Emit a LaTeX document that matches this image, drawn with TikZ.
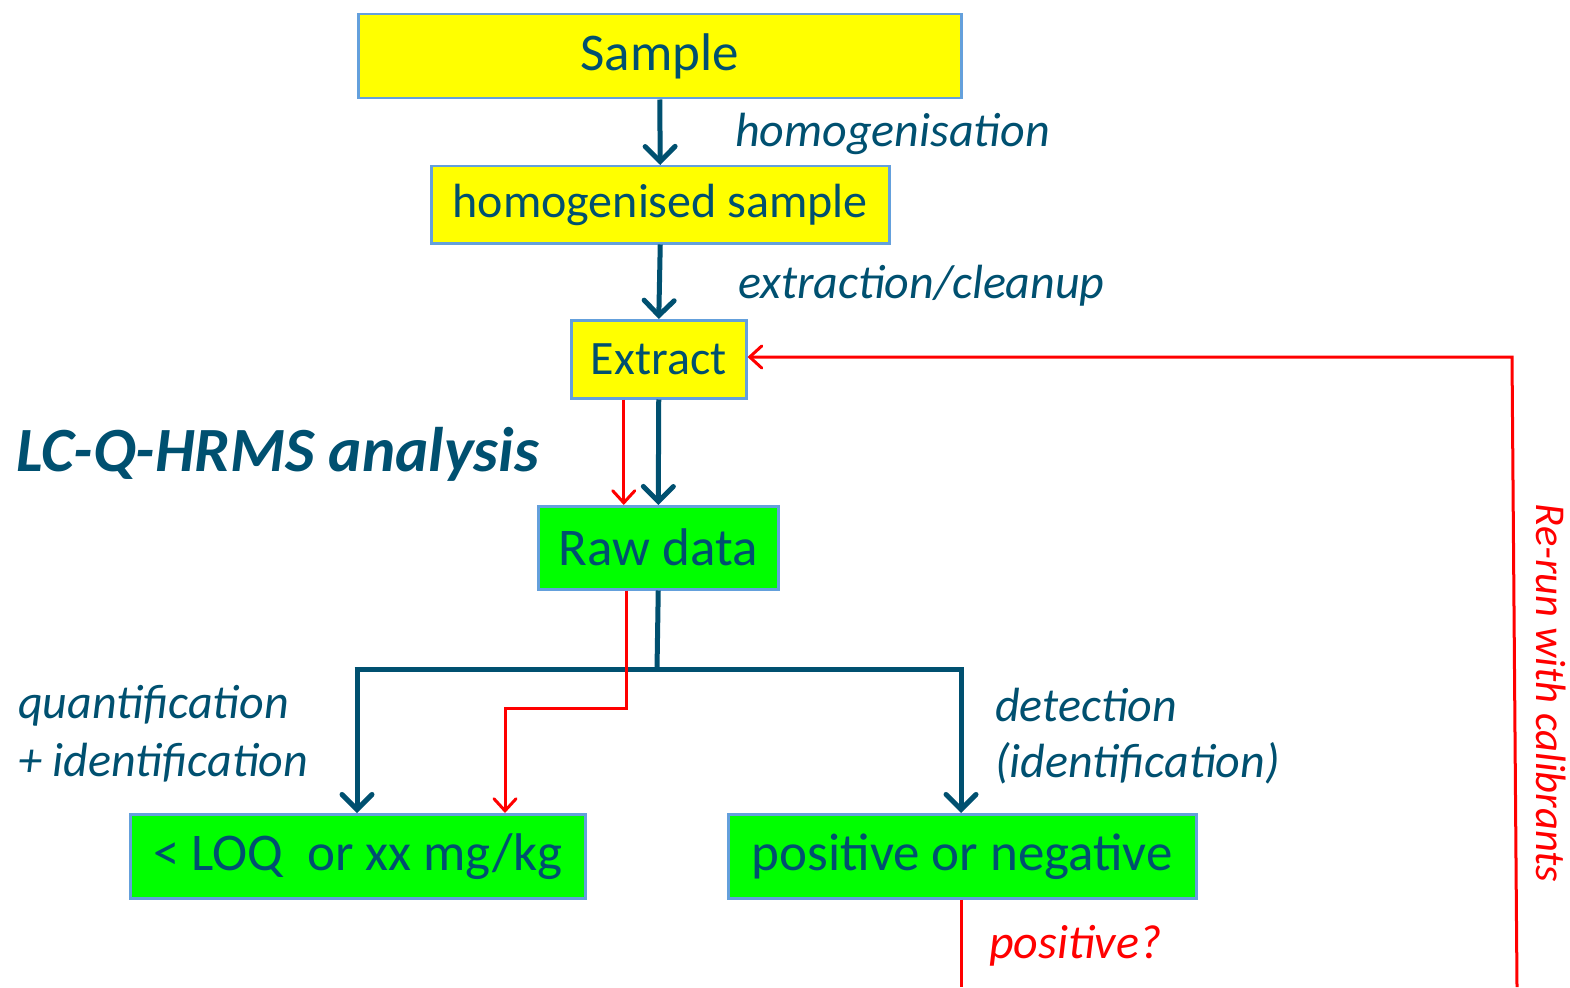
\documentclass[tikz,border=0pt]{standalone}
\usepackage{fontspec}
\setmainfont{Carlito}
\usetikzlibrary{arrows.meta,calc}
\definecolor{ink}{RGB}{0,80,112}
\definecolor{boxline}{RGB}{100,160,220}
\definecolor{fillY}{RGB}{255,255,0}
\definecolor{fillG}{RGB}{0,255,0}
\definecolor{alarm}{RGB}{255,0,0}
\newcommand{\fs}[1]{\fontsize{#1}{#1}\selectfont}
\tikzset{
  stagebox/.style={draw=boxline, line width=2.5pt, text=ink, inner sep=0pt, anchor=north west},
  flow/.style={draw=ink, line width=5pt, -{Straight Barb[length=15pt,width=30pt,line cap=round]}},
  plainflow/.style={draw=ink, line width=5pt},
  recheck/.style={draw=alarm, line width=3pt, -{Straight Barb[length=12pt,width=22pt,line cap=round]}},
  plainrecheck/.style={draw=alarm, line width=3pt},
  steplabel/.style={anchor=west, inner sep=0pt, text=ink, font=\fs{48}\itshape},
}
\begin{document}
\begin{tikzpicture}[x=1pt,y=-1pt]
\useasboundingbox (0,0) rectangle (1570,987);

% process boxes
\node[stagebox, fill=fillY, minimum width=603pt, minimum height=84pt, font=\fs{53}] (sample) at (357,13) {Sample};
\node[stagebox, fill=fillY, minimum width=458pt, minimum height=77pt, font=\fs{48}] (homog) at (430,165) {homogenised sample};
\node[stagebox, fill=fillY, minimum width=175pt, minimum height=78pt, font=\fs{48}] (extract) at (570,319) {Extract};
\node[stagebox, fill=fillG, minimum width=240pt, minimum height=83pt, font=\fs{53}] (raw) at (537,505) {Raw data};
\node[stagebox, fill=fillG, minimum width=455pt, minimum height=84pt, font=\fs{53}] (loq) at (129,813) {<~LOQ~~or xx mg/kg};
\node[stagebox, fill=fillG, minimum width=468pt, minimum height=84pt, font=\fs{53}] (posneg) at (727,813) {positive or negative};

% step labels
\node[steplabel] (lhom) at (735,134) {homogenisation};
\node[steplabel] (lext) at (738,286) {extraction/cleanup};
\node[steplabel, font=\fs{63}\bfseries\itshape] (lana) at (16,454) {LC-Q-HRMS analysis};
\node[steplabel] (lq1) at (18,706) {quantification};
\node[steplabel] (lq2) at (18,763) {+ identification};
\node[steplabel] (ld1) at (995,705) {detection};
\node[steplabel] (ld2) at (995,763) {(identification)};
\node[steplabel, text=alarm] (lpos) at (989,946) {positive?};
\node[inner sep=0pt, text=alarm, font=\fs{42.5}\itshape, rotate=-90] (lrerun) at (1551,693) {Re-run with calibrants};

% main flow
\draw[flow] (sample.south) -- (homog.north);
\draw[flow] (homog.south) -- (extract.north);
\draw[flow] (extract.south) -- (raw.north);
\coordinate (split) at (657,669);
\coordinate (splitL) at (357,669);
\coordinate (splitR) at (961,669);
\draw[plainflow] (raw.south) -- (split);
\draw[plainflow] ([xshift=-2.5pt]splitL) -- ([xshift=2.5pt]splitR);
\draw[flow] (splitL) -- (splitL |- loq.north);
\draw[flow] (splitR) -- (splitR |- posneg.north);

% re-run path
\draw[recheck] ([xshift=-35pt]extract.south) -- ([xshift=-35pt]extract.south |- raw.north);
\coordinate (rbend) at (505,708);
\draw[recheck] ([xshift=-32pt]raw.south) |- (rbend) -- (rbend |- loq.north);
\coordinate (posend) at (961,987);
\draw[plainrecheck] (posneg.south -| posend) -- (posend);
\coordinate (loopbot) at (1517,987);
\coordinate (looptop) at (1512,357);
\draw[recheck] (loopbot) -- (looptop) -- (extract.east |- looptop);
\end{tikzpicture}
\end{document}
